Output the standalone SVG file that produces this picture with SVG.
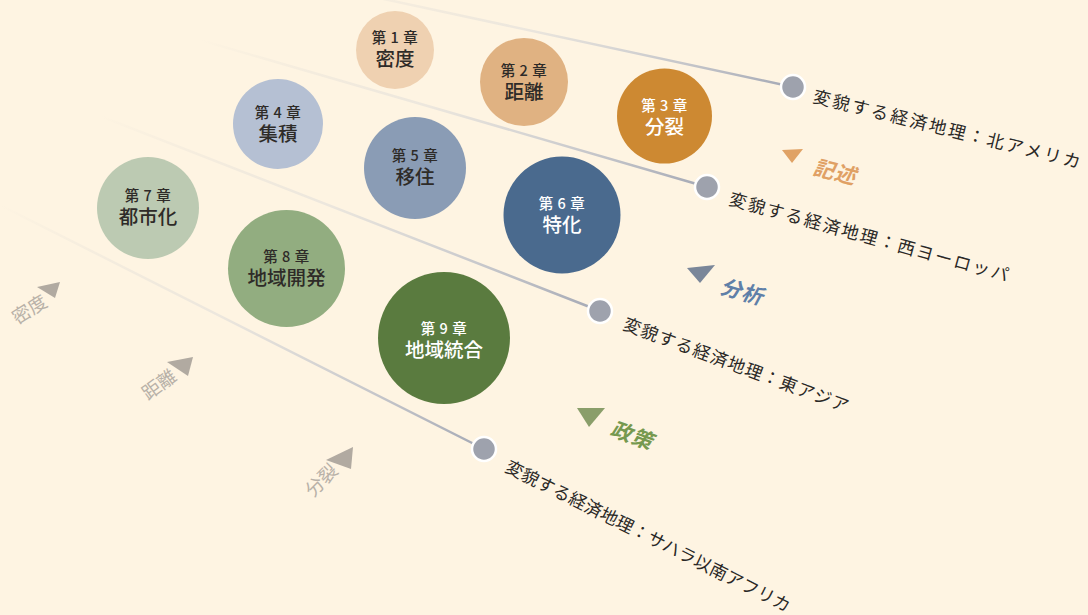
<svg xmlns="http://www.w3.org/2000/svg" width="1088" height="615" viewBox="0 0 1088 615">
<style>
.bg{fill:#fef4e2}
.ch{font-family:"Noto Sans CJK JP","Noto Sans",sans-serif;font-size:14.5px;font-weight:500;text-anchor:middle;letter-spacing:0.5px}
.nm{font-family:"Noto Sans CJK JP","Noto Sans",sans-serif;font-size:19.5px;font-weight:500;text-anchor:middle}
.dk{fill:#2e2b28}
.wh{fill:#ffffff}
.lbl{font-family:"Noto Sans CJK JP",sans-serif;font-size:17.5px;fill:#2a2826}
.cat{font-family:"Noto Sans CJK JP",sans-serif;font-size:21px;font-weight:bold;letter-spacing:1px}
.ax{font-family:"Noto Sans CJK JP",sans-serif;font-size:18.5px;fill:#b8b1a8;text-anchor:middle}
.axt{fill:#b1aaa1}
.dot{fill:#9ea2ad;stroke:#ffffff;stroke-width:2.5}
.ln{fill:none;stroke-width:2.5;stroke-linecap:round}
</style>
<defs>
<linearGradient id="g1" gradientUnits="userSpaceOnUse" x1="300" y1="-19" x2="793" y2="87"><stop offset="0" stop-color="#a4a8b4" stop-opacity="0"/><stop offset="0.45" stop-color="#b8c0d0" stop-opacity="0.25"/><stop offset="1" stop-color="#a4a8b4" stop-opacity="1"/></linearGradient>
<linearGradient id="g2" gradientUnits="userSpaceOnUse" x1="200" y1="40" x2="707" y2="187"><stop offset="0" stop-color="#a4a8b4" stop-opacity="0"/><stop offset="0.45" stop-color="#b8c0d0" stop-opacity="0.25"/><stop offset="1" stop-color="#a4a8b4" stop-opacity="1"/></linearGradient>
<linearGradient id="g3" gradientUnits="userSpaceOnUse" x1="100" y1="116" x2="600" y2="311"><stop offset="0" stop-color="#a4a8b4" stop-opacity="0"/><stop offset="0.45" stop-color="#b8c0d0" stop-opacity="0.25"/><stop offset="1" stop-color="#a4a8b4" stop-opacity="1"/></linearGradient>
<linearGradient id="g4" gradientUnits="userSpaceOnUse" x1="0" y1="205" x2="484" y2="449"><stop offset="0" stop-color="#a4a8b4" stop-opacity="0"/><stop offset="0.45" stop-color="#b8c0d0" stop-opacity="0.25"/><stop offset="1" stop-color="#a4a8b4" stop-opacity="1"/></linearGradient>
</defs>
<rect class="bg" x="0" y="0" width="1088" height="615"/>

<g id="connectors">
<line class="ln" x1="300" y1="-19" x2="793" y2="87" stroke="url(#g1)"/>
<line class="ln" x1="200" y1="40" x2="707" y2="187" stroke="url(#g2)"/>
<line class="ln" x1="100" y1="116" x2="600" y2="311" stroke="url(#g3)"/>
<line class="ln" x1="0" y1="205" x2="484" y2="449" stroke="url(#g4)"/>
</g>

<g id="ch1"><circle cx="395" cy="50" r="39" fill="#efd1b1"/><text class="ch dk" x="395" y="43">第 1 章</text><text class="nm dk" x="395" y="66">密度</text></g>
<g id="ch2"><circle cx="524" cy="82" r="44" fill="#e0b282"/><text class="ch dk" x="524" y="76">第 2 章</text><text class="nm dk" x="524" y="99">距離</text></g>
<g id="ch3"><circle cx="664.5" cy="116" r="47.5" fill="#cd8932"/><text class="ch wh" x="664.5" y="111">第 3 章</text><text class="nm wh" x="664.5" y="134">分裂</text></g>
<g id="ch4"><circle cx="278" cy="124" r="45" fill="#b5c0d3"/><text class="ch dk" x="278" y="118">第 4 章</text><text class="nm dk" x="278" y="141">集積</text></g>
<g id="ch5"><circle cx="415" cy="168" r="51" fill="#8a9cb5"/><text class="ch dk" x="415" y="161">第 5 章</text><text class="nm dk" x="415" y="184">移住</text></g>
<g id="ch6"><circle cx="562" cy="215" r="58.5" fill="#4a6a8e"/><text class="ch wh" x="562" y="209">第 6 章</text><text class="nm wh" x="562" y="232">特化</text></g>
<g id="ch7"><circle cx="148" cy="208" r="51" fill="#bccab2"/><text class="ch dk" x="148" y="201">第 7 章</text><text class="nm dk" x="148" y="224">都市化</text></g>
<g id="ch8"><circle cx="286.5" cy="268.5" r="58.5" fill="#92ad80"/><text class="ch dk" x="286.5" y="262">第 8 章</text><text class="nm dk" x="286.5" y="285">地域開発</text></g>
<g id="ch9"><circle cx="444" cy="338" r="66" fill="#5a7b3f"/><text class="ch wh" x="444" y="334">第 9 章</text><text class="nm wh" x="444" y="357">地域統合</text></g>

<g id="region1"><circle class="dot" cx="793" cy="87" r="12"/><text class="lbl" transform="translate(812,102) rotate(14)" textLength="275" lengthAdjust="spacing">変貌する経済地理：北アメリカ</text></g>
<g id="region2"><circle class="dot" cx="707" cy="187" r="12"/><text class="lbl" transform="translate(728,204.5) rotate(15.5)" textLength="289" lengthAdjust="spacing">変貌する経済地理：西ヨーロッパ</text></g>
<g id="region3"><circle class="dot" cx="600" cy="311" r="12"/><text class="lbl" transform="translate(622,329) rotate(20.5)" textLength="239" lengthAdjust="spacing">変貌する経済地理：東アジア</text></g>
<g id="region4"><circle class="dot" cx="484" cy="449" r="12"/><text class="lbl" transform="translate(504,471) rotate(26.6)" textLength="316" lengthAdjust="spacing">変貌する経済地理：サハラ以南アフリカ</text></g>

<g id="cat-kijutsu"><polygon points="782,150 803,149 792,163" fill="#e0a265"/><text class="cat" fill="#e0a064" transform="translate(812,174) rotate(14) skewX(-12)">記述</text></g>
<g id="cat-bunseki"><polygon points="687,268 715,265 700,283" fill="#7a8699"/><text class="cat" fill="#5f7fa8" transform="translate(719,293) rotate(16) skewX(-12)">分析</text></g>
<g id="cat-seisaku"><polygon points="577,408 605,408 589,427" fill="#8a9e6a"/><text class="cat" fill="#76994f" transform="translate(609,435) rotate(20) skewX(-12)">政策</text></g>

<g id="axis-mitsudo"><polygon class="axt" points="37,287 60,282 55,298"/><text class="ax" transform="translate(33,315) rotate(-32)">密度</text></g>
<g id="axis-kyori"><polygon class="axt" points="167,362 193,357 188,376"/><text class="ax" transform="translate(163,390) rotate(-36)">距離</text></g>
<g id="axis-bunretsu"><polygon class="axt" points="326,460 353,447 351,469"/><text class="ax" transform="translate(326,485) rotate(-45)">分裂</text></g>
</svg>
